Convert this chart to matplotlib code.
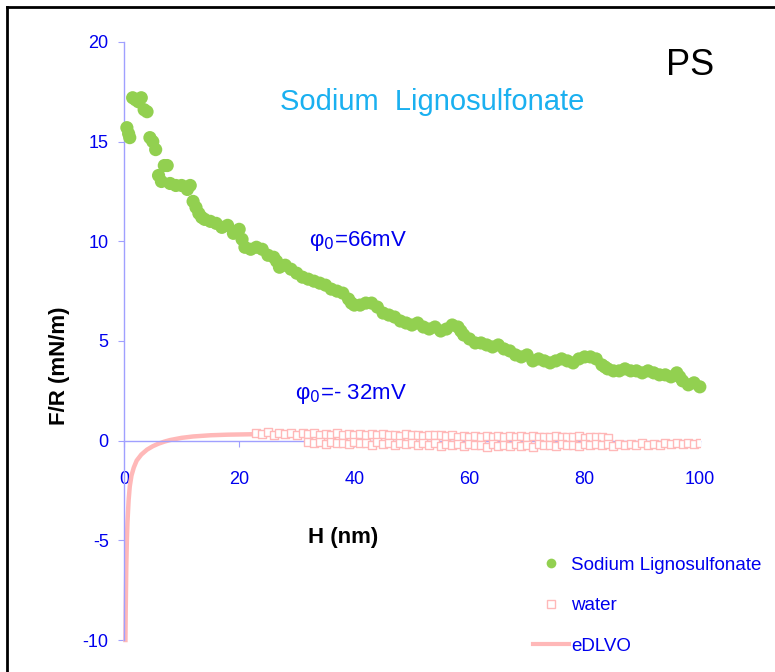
"""Surface force F/R versus separation H for PS with sodium lignosulfonate."""

import matplotlib

matplotlib.use("Agg")
import matplotlib.pyplot as plt
from matplotlib.lines import Line2D

plt.rcParams["font.family"] = ["Liberation Sans", "DejaVu Sans"]
plt.rcParams["axes.unicode_minus"] = False

# sodium lignosulfonate (green dots)
sl_h = [0.5, 0.8, 1, 1.5, 2, 2.5, 3, 3.5, 4, 4.5, 5, 5.5, 6, 6.5, 7, 7.5, 8,
        9, 10, 11, 11.5, 12, 12.5, 13, 13.5, 14, 15, 16, 17, 18, 19, 20, 20.5,
        21, 22, 23, 24, 25, 26, 26.5, 27, 28, 29, 30, 31, 32, 33, 34, 35, 36,
        37, 38, 39, 39.5, 40, 41, 42, 43, 44, 45, 46, 47, 48, 49, 50, 51, 52,
        53, 54, 55, 56, 57, 58, 58.5, 59, 60, 61, 62, 63, 64, 65, 66, 67, 68,
        69, 70, 71, 72, 73, 74, 75, 76, 77, 78, 79, 80, 81, 82, 83, 83.5, 84,
        85, 86, 87, 88, 89, 90, 91, 92, 93, 94, 95, 96, 96.5, 97, 98, 99, 100]
sl_f = [15.7, 15.4, 15.2, 17.2, 17.1, 17.0, 17.2, 16.6, 16.5, 15.2, 15.0, 14.6,
        13.3, 13.0, 13.8, 13.8, 12.9, 12.8, 12.8, 12.6, 12.8, 12.0, 11.7, 11.4,
        11.2, 11.1, 11.0, 10.9, 10.7, 10.8, 10.4, 10.6, 10.1, 9.7, 9.6, 9.7,
        9.6, 9.3, 9.2, 9.0, 8.7, 8.8, 8.6, 8.4, 8.2, 8.1, 8.0, 7.9, 7.8, 7.6,
        7.5, 7.4, 7.1, 6.9, 6.8, 6.8, 6.9, 6.9, 6.7, 6.4, 6.3, 6.2, 6.0, 5.9,
        5.8, 5.9, 5.7, 5.6, 5.7, 5.5, 5.6, 5.8, 5.7, 5.5, 5.3, 5.1, 4.9, 4.9,
        4.8, 4.7, 4.8, 4.6, 4.5, 4.3, 4.2, 4.3, 4.0, 4.1, 4.0, 3.9, 4.0, 4.1,
        4.0, 3.9, 4.1, 4.2, 4.2, 4.1, 3.8, 3.7, 3.6, 3.5, 3.5, 3.6, 3.5, 3.5,
        3.4, 3.5, 3.4, 3.3, 3.3, 3.2, 3.4, 3.2, 3.0, 2.8, 2.9, 2.7]

# water (pink open squares), upper band and lower band
water_up_h = list(range(23, 85))
water_up_f = [0.4, 0.35, 0.42, 0.3, 0.38, 0.33, 0.4, 0.3, 0.36, 0.32, 0.4,
              0.3, 0.35, 0.28, 0.36, 0.3, 0.33, 0.27, 0.35, 0.3, 0.32, 0.26,
              0.34, 0.28, 0.3, 0.25, 0.32, 0.27, 0.3, 0.24, 0.3, 0.26, 0.28,
              0.22, 0.26, 0.2, 0.24, 0.18, 0.22, 0.2, 0.24, 0.17, 0.22, 0.19,
              0.23, 0.17, 0.21, 0.18, 0.22, 0.16, 0.2, 0.18, 0.22, 0.16, 0.2,
              0.17, 0.21, 0.15, 0.19, 0.17, 0.2, 0.15]
water_low_h = list(range(32, 101))
water_low_f = [-0.05, -0.12, -0.08, -0.15, -0.06, -0.12, -0.1, -0.18, -0.08,
               -0.14, -0.1, -0.2, -0.08, -0.15, -0.12, -0.2, -0.1, -0.18,
               -0.12, -0.22, -0.14, -0.2, -0.12, -0.25, -0.15, -0.22, -0.18,
               -0.28, -0.15, -0.22, -0.2, -0.3, -0.18, -0.25, -0.2, -0.28,
               -0.16, -0.25, -0.2, -0.3, -0.18, -0.24, -0.2, -0.28, -0.16,
               -0.22, -0.2, -0.26, -0.18, -0.24, -0.15, -0.22, -0.18, -0.25,
               -0.15, -0.2, -0.17, -0.22, -0.14, -0.2, -0.15, -0.2, -0.12,
               -0.18, -0.14, -0.16, -0.12, -0.15, -0.1]

# eDLVO fit (pink line)
edlvo_h = [0.25, 0.3, 0.4, 0.5, 0.6, 0.8, 1.0, 1.3, 1.7, 2.2, 3, 4, 5, 6, 7, 8,
           10, 12, 15, 18, 22]
edlvo_f = [-10, -8.5, -6.3, -5.0, -4.1, -3.0, -2.3, -1.75, -1.35, -1.0, -0.7,
           -0.45, -0.28, -0.15, -0.05, 0.03, 0.14, 0.21, 0.27, 0.3, 0.32]

x_ticks = [0, 20, 40, 60, 80, 100]
y_ticks = [-10, -5, 0, 5, 10, 15, 20]

GREEN = "#92d050"
PINK = "#ffb8b8"
AXIS_BLUE = "#a0a0ff"
TEXT_BLUE = "#0000ee"

fig = plt.figure(figsize=(7.75, 6.72), dpi=100)
ax = fig.add_axes([0.16, 0.0476, 0.743, 0.89])

ax.plot(edlvo_h, edlvo_f, color=PINK, linewidth=3.2, zorder=2, clip_on=False)
for wh, wf in [(water_up_h, water_up_f), (water_low_h, water_low_f)]:
    ax.scatter(wh, wf, marker="s", s=36, facecolor="white",
               edgecolor=PINK, linewidth=1.0, zorder=3)
ax.scatter(sl_h, sl_f, s=90, color=GREEN, edgecolor="none", zorder=4,
           clip_on=False)

ax.set_xlim(0, 100)
ax.set_ylim(-10, 20)
ax.set_xticks(x_ticks)
ax.set_yticks(y_ticks)

for side in ["top", "right"]:
    ax.spines[side].set_visible(False)
ax.spines["bottom"].set_position(("data", 0))
for side in ["left", "bottom"]:
    ax.spines[side].set_color(AXIS_BLUE)
    ax.spines[side].set_linewidth(1.0)
ax.tick_params(axis="x", direction="out", length=4, color=AXIS_BLUE,
               labelcolor=TEXT_BLUE, labelsize=13, pad=18)
ax.tick_params(axis="y", direction="out", length=4, color=AXIS_BLUE,
               labelcolor=TEXT_BLUE, labelsize=13, pad=7)

fig.text(0.077, 0.455, "F/R (mN/m)", rotation=90, fontsize=16,
         fontweight="bold", ha="center", va="center")
fig.text(0.443, 0.2, "H (nm)", fontsize=16, fontweight="bold",
         ha="center", va="center")

fig.text(0.558, 0.848, "Sodium  Lignosulfonate", fontsize=21, color="#1ab0f0",
         ha="center", va="center")
fig.text(0.89, 0.903, "PS", fontsize=26, color="black",
         ha="center", va="center")
fig.text(0.462, 0.641, r"φ$_0$=66mV", fontsize=16, color=TEXT_BLUE,
         ha="center", va="center")
fig.text(0.453, 0.414, r"φ$_0$=- 32mV", fontsize=16, color=TEXT_BLUE,
         ha="center", va="center")

handles = [
    Line2D([], [], linestyle="none", marker="o", markersize=7,
           color=GREEN, markeredgecolor="none"),
    Line2D([], [], linestyle="none", marker="s", markersize=6,
           markerfacecolor="white", markeredgecolor=PINK),
    Line2D([], [], color=PINK, linewidth=3),
]
labels = ["Sodium Lignosulfonate", "water", "eDLVO"]
fig.legend(handles, labels, loc="upper left", bbox_to_anchor=(0.678, 0.183),
           frameon=False, fontsize=13.5, labelcolor=TEXT_BLUE,
           handlelength=1.9, handletextpad=0.15, labelspacing=1.25,
           borderaxespad=0)

# frame around the figure (top and left edges visible)
fig.add_artist(Line2D([0.009, 1.0], [0.99, 0.99], color="black",
                      linewidth=2, transform=fig.transFigure))
fig.add_artist(Line2D([0.009, 0.009], [0.0, 0.99], color="black",
                      linewidth=2, transform=fig.transFigure))

fig.savefig("out.png", dpi=100)
